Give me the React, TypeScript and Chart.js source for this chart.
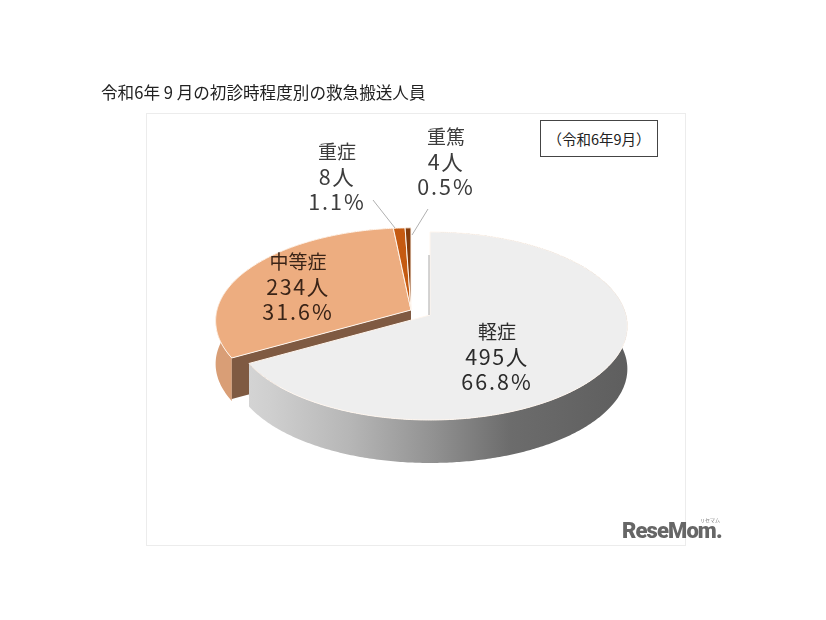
import React, { useEffect, useRef } from "react";
import { Chart, registerables } from "chart.js";

Chart.register(...registerables);

const titleText = "令和6年 9 月の初診時程度別の救急搬送人員";
const noteText = "（令和6年9月）";
const categories = ["軽症", "中等症", "重症", "重篤"];
const counts = [495, 234, 8, 4];
const percents = ["66.8", "31.6", "1.1", "0.5"];
const colors = ["#eeeeee", "#edad80", "#c55a11", "#843c0c"];

const labelPos = [
  { x: 497, y: 332, color: "#2b2b2b" },
  { x: 298, y: 262, color: "#3a2417" },
  { x: 337, y: 152, color: "#3c3c3c" },
  { x: 446, y: 137, color: "#3c3c3c" },
];
const leaders = [
  null,
  null,
  [373, 200, 395, 228],
  [428, 209, 412, 235],
];

const FONT = '"Noto Sans CJK JP", "Noto Sans", sans-serif';
const P = 0.117;
const SQUASH = 0.4635;
const XFACT = 0.98;
const DEPTH = 43;
// the three smaller slices are pulled out together
const GROUP = { dx: -19, dy: -5, scale: 0.99 };

type Geo = { ox: number; oy: number; r: number };

function project(g: Geo, angle: number, u: number) {
  const X = Math.cos(angle) * u;
  const Y = -Math.sin(angle) * u;
  const w = 1 + P * Y;
  return {
    x: g.ox + (g.r * XFACT * X) / w,
    y: g.oy - (g.r * SQUASH * Y) / w,
  };
}

function arcPoints(g: Geo, a0: number, a1: number) {
  const n = Math.max(2, Math.ceil(Math.abs(a1 - a0) * 90));
  const pts = [];
  for (let i = 0; i <= n; i++) pts.push(project(g, a0 + ((a1 - a0) * i) / n, 1));
  return pts;
}

function poly(ctx: CanvasRenderingContext2D, pts: { x: number; y: number }[]) {
  ctx.beginPath();
  pts.forEach((p, i) => (i ? ctx.lineTo(p.x, p.y) : ctx.moveTo(p.x, p.y)));
  ctx.closePath();
}

const pie3d = {
  id: "pie3d",
  beforeDatasetsDraw(chart: any) {
    const ctx: CanvasRenderingContext2D = chart.ctx;
    const arcs = chart.getDatasetMeta(0).data;
    const geoOf = (i: number): Geo => {
      const el = arcs[i];
      return i === 0
        ? { ox: el.x, oy: el.y, r: el.outerRadius }
        : { ox: el.x + GROUP.dx, oy: el.y + GROUP.dy, r: el.outerRadius * GROUP.scale };
    };
    const top = (i: number) => {
      const g = geoOf(i);
      const el = arcs[i];
      poly(ctx, [{ x: g.ox, y: g.oy }, ...arcPoints(g, el.startAngle, el.endAngle)]);
      ctx.fillStyle = el.options.backgroundColor;
      ctx.fill();
      ctx.strokeStyle = "#fff6ee";
      ctx.lineWidth = 1;
      ctx.stroke();
    };
    const wall = (g: Geo, a0: number, a1: number, fill: any) => {
      const up = arcPoints(g, a0, a1);
      const down = up.map((p) => ({ x: p.x, y: p.y + DEPTH })).reverse();
      poly(ctx, [...up, ...down]);
      ctx.fillStyle = fill;
      ctx.fill();
    };

    ctx.save();
    // pulled-out group: outer wall, cut face, top surfaces
    const g1 = geoOf(1);
    const o = arcs[1];
    wall(g1, o.startAngle, o.endAngle, "#d99e76");
    const corner = project(g1, o.startAngle, 1);
    poly(ctx, [
      { x: g1.ox, y: g1.oy },
      corner,
      { x: corner.x, y: corner.y + DEPTH - 2 },
      { x: g1.ox, y: g1.oy + DEPTH - 2 },
    ]);
    ctx.fillStyle = "#7f5a42";
    ctx.fill();
    for (let i = 1; i < arcs.length; i++) top(i);

    // large slice
    const g0 = geoOf(0);
    const b = arcs[0];
    const grad = ctx.createLinearGradient(g0.ox - g0.r, 0, g0.ox + g0.r, 0);
    grad.addColorStop(0, "#d8d8d8");
    grad.addColorStop(0.1, "#cfcfcf");
    grad.addColorStop(0.3, "#b6b6b6");
    grad.addColorStop(0.5, "#939393");
    grad.addColorStop(0.7, "#6c6c6c");
    grad.addColorStop(1, "#5e5e5e");
    wall(g0, b.startAngle, b.endAngle, grad);
    top(0);
    // thin visible edge of the large slice beside the gap
    const e0 = project(g0, b.startAngle, 0);
    const e1 = project(g0, b.startAngle, 0.7);
    ctx.beginPath();
    ctx.moveTo(e0.x - 1, e0.y);
    ctx.lineTo(e1.x - 1, e1.y);
    ctx.strokeStyle = "#a8a8a8";
    ctx.lineWidth = 1;
    ctx.stroke();
    ctx.restore();
    return false;
  },
  afterDraw(chart: any) {
    const ctx: CanvasRenderingContext2D = chart.ctx;
    ctx.save();
    leaders.forEach((l) => {
      if (!l) return;
      ctx.beginPath();
      ctx.moveTo(l[0], l[1]);
      ctx.lineTo(l[2], l[3]);
      ctx.strokeStyle = "#b0b0b0";
      ctx.lineWidth = 1;
      ctx.stroke();
    });
    ctx.textAlign = "center";
    ctx.textBaseline = "middle";
    categories.forEach((c, i) => {
      const p = labelPos[i];
      ctx.fillStyle = p.color;
      const lines = [c, `${counts[i]}人`, `${percents[i]}%`];
      lines.forEach((t, k) => {
        ctx.font = `${k === 0 ? 19 : 21.5}px ${FONT}`;
        (ctx as any).letterSpacing = k === 0 ? "0px" : k === 1 ? "1.5px" : "2px";
        ctx.fillText(t, p.x, p.y + k * 25);
      });
    });
    ctx.restore();
  },
};

const box = (s: React.CSSProperties): React.CSSProperties => ({
  position: "absolute",
  boxSizing: "border-box",
  ...s,
});

export default function App() {
  const ref = useRef<HTMLCanvasElement>(null);
  useEffect(() => {
    const chart = new Chart(ref.current!, {
      type: "pie",
      data: {
        labels: categories,
        datasets: [{ data: counts, backgroundColor: colors, borderWidth: 0 }],
      },
      options: {
        responsive: false,
        animation: false,
        layout: { padding: { left: 230, right: 196, top: 115, bottom: 105 } },
        plugins: { legend: { display: false }, tooltip: { enabled: false }, title: { display: false } },
      },
      plugins: [pie3d],
    } as any);
    return () => chart.destroy();
  }, []);
  return (
    <div style={{ position: "absolute", left: 0, top: 0, width: 826, height: 620, background: "#fff", overflow: "hidden", fontFamily: FONT }}>
      <div style={box({ left: 146, top: 113, width: 540, height: 433, border: "1px solid #ececec" })} />
      <canvas ref={ref} width={826} height={620} style={box({ left: 0, top: 0, width: 826, height: 620 })} />
      <div style={box({ left: 101, top: 80, fontSize: 16.6, lineHeight: "24px", color: "#222", whiteSpace: "nowrap" })}>{titleText}</div>
      <div style={box({ left: 540, top: 120, width: 118, height: 37, border: "1px solid #444", background: "#fff", fontSize: 14.5, fontWeight: 400, lineHeight: "35px", textAlign: "center", color: "#222" })}>{noteText}</div>
      <div style={box({ left: 622, top: 516, fontFamily: "Roboto, sans-serif", fontWeight: 900, fontSize: 22, lineHeight: "30px", color: "#666", whiteSpace: "nowrap", letterSpacing: "-0.9px" })}>ReseMom.</div>
      <div style={box({ left: 700, top: 516, fontSize: 5, lineHeight: "7px", color: "#777", whiteSpace: "nowrap" })}>リセマム</div>
    </div>
  );
}
